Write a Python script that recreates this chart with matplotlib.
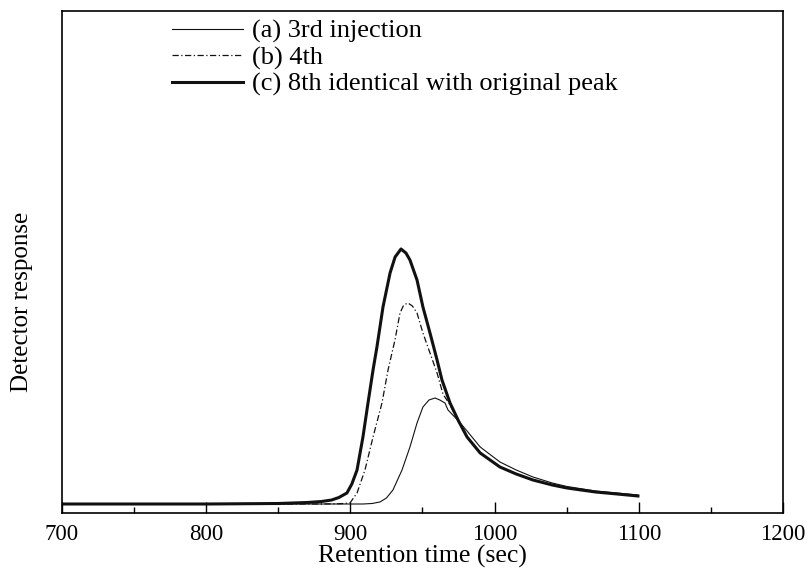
import matplotlib
matplotlib.use("Agg")
import matplotlib.pyplot as plt
from matplotlib.ticker import MultipleLocator

plt.rcParams['font.family'] = ['Liberation Serif', 'DejaVu Serif']

# -----------------------------
# DATA (arbitrary detector units)
# -----------------------------
# (c) 8th injection, identical with original peak
time_c = [700, 800, 850, 870, 880, 887, 892, 897.6, 901.0, 904.6, 908.7, 912.2,
          915.7, 918.4, 922.6, 927.5, 931.0, 935.1, 938.5, 941.3, 946.2, 950.3,
          955.2, 960.1, 963.5, 969.1, 975.0, 980.9, 990.0, 1003.7, 1015.0,
          1026.6, 1040.0, 1050.2, 1070.0, 1085.0, 1099.4]
resp_c = [0, 0, 0.5, 1.5, 2.5, 4, 6.5, 11, 20, 34, 67, 101,
          134, 157, 197, 231, 247, 255, 251, 244, 224, 197,
          171, 144, 124, 101, 83, 67, 51, 37, 30,
          24, 19, 16, 12, 10, 8]

# (b) 4th injection
time_b = [700, 800, 880, 893.0, 899.7, 904.6, 910.1, 915.7, 921.9, 926.1, 930.9,
          934.4, 937.0, 939.9, 943.0, 946.2, 950.3, 955.2, 960.1, 964.2, 969.1,
          975.0, 980.9, 990.0, 1003.7, 1015.0, 1026.6, 1040.0, 1050.2, 1070.0,
          1085.0, 1099.4]
resp_b = [0, 0, 0, 0.3, 1, 11, 34, 67, 101, 134, 164,
          191, 199, 201, 198, 191, 171, 151, 131, 110, 99,
          82, 67, 51, 37, 30, 24, 19, 16, 12,
          10, 8]

# (a) 3rd injection
time_a = [700, 800, 900, 908.7, 915.0, 920.5, 925.0, 929.5, 935.8, 941.3, 946.2,
          950.3, 954.5, 958.7, 962.0, 965.6, 967.7, 975.0, 980.9, 990.0, 1003.7,
          1015.0, 1026.6, 1040.0, 1050.2, 1070.0, 1085.0, 1099.4]
resp_a = [0, 0, 0, 0, 0.5, 2, 6, 14, 34, 57, 81,
          97, 104, 106, 104, 101, 94, 83, 73, 57, 42,
          34, 27, 21, 17.5, 13, 11, 9]

labels = ["(a) 3rd injection", "(b) 4th", "(c) 8th identical with original peak"]

fig = plt.figure(figsize=(8.10, 5.73), dpi=100)
ax = fig.add_axes([62 / 810, 1 - 513 / 573, (783 - 62) / 810, (513 - 11) / 573])

ax.plot(time_a, resp_a, color="#111111", lw=0.8, label=labels[0])
ax.plot(time_b, resp_b, color="#111111", lw=0.9, linestyle=(0, (5, 2, 1, 2)), label=labels[1])
ax.plot(time_c, resp_c, color="#111111", lw=2.2, label=labels[2])

ax.set_xlim(700, 1200)
ax.set_ylim(-9, 493)

ax.xaxis.set_major_locator(MultipleLocator(100))
ax.xaxis.set_minor_locator(MultipleLocator(50))
ax.tick_params(axis="x", which="major", direction="in", length=8, width=1, labelsize=16.5, pad=8)
ax.tick_params(axis="x", which="minor", direction="in", length=4.3, width=1)
ax.set_yticks([])

for side in ax.spines.values():
    side.set_linewidth(1.2)

ax.set_xlabel("Retention time (sec)", fontsize=18.5, labelpad=0)
ax.set_ylabel("Detector response", fontsize=18)
ax.yaxis.set_label_coords(-0.040, 0.42)

ax.legend(loc="upper left", bbox_to_anchor=(0.1526, 0.983), frameon=False,
          fontsize=19, handlelength=2.7, handletextpad=0.32, labelspacing=0.1,
          borderpad=0, borderaxespad=0)

fig.savefig("out.png", dpi=100)
